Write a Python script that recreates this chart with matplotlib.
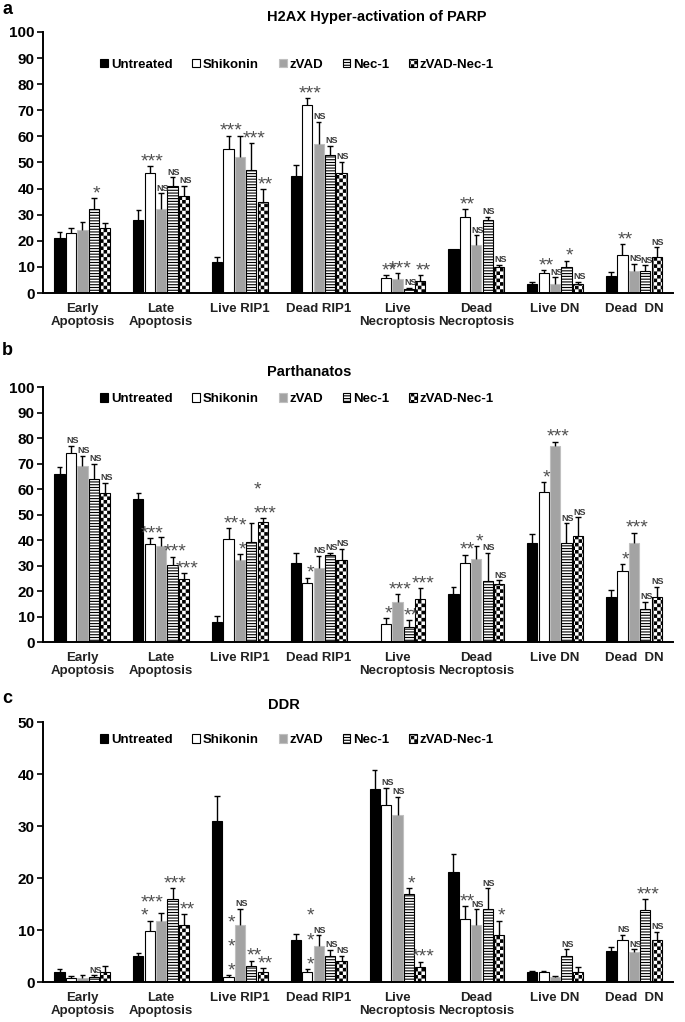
import warnings
import numpy as np
import matplotlib
matplotlib.use('Agg')
import matplotlib.pyplot as plt
from matplotlib import hatch as mhatch
from matplotlib.path import Path

warnings.filterwarnings('ignore')

plt.rcParams['font.family'] = ['Liberation Sans', 'DejaVu Sans']
plt.rcParams['hatch.linewidth'] = 0.8

categories = ['Early\nApoptosis', 'Late\nApoptosis', 'Live RIP1', 'Dead RIP1',
              'Live\nNecroptosis', 'Dead\nNecroptosis', 'Live DN', 'Dead  DN']
series = ['Untreated', 'Shikonin', 'zVAD', 'Nec-1', 'zVAD-Nec-1']

# Panel a: H2AX hyper-activation of PARP
untreated_a = [21, 28, 12, 45, 0.5, 17, 3.6, 6.6]
untreated_a_err = [2.2, 3.7, 1.9, 3.9, 0, 0, 0.7, 1.6]
shikonin_a = [23, 46, 55, 72, 5.6, 29, 7.8, 14.6]
shikonin_a_err = [1.9, 2.6, 5.3, 2.7, 1.3, 3, 0.9, 4]
zvad_a = [24, 32, 52, 57, 5.5, 18.5, 3.3, 8.5]
zvad_a_err = [3.2, 6.2, 8.3, 8.5, 2, 3.6, 2.7, 2.8]
nec1_a = [32, 41, 47, 53, 1.7, 28, 9.8, 8.5]
nec1_a_err = [4.3, 3.3, 10.5, 3.4, 0.4, 1.2, 2.6, 2.1]
zvadnec_a = [25, 37, 35, 46, 4.7, 10, 3.6, 13.9]
zvadnec_a_err = [2, 4.1, 4.8, 4.3, 2.1, 0.8, 0.6, 3.6]
sig_a = [
    ['', '', '', '', '', '', '', ''],
    ['', '***', '***', '***', '**', '**', '**', '**'],
    ['', 'NS', '', 'NS', '***', 'NS', 'NS', 'NS'],
    ['*', 'NS', '***', 'NS', 'NS', 'NS', '*', 'NS'],
    ['', 'NS', '**', 'NS', '**', 'NS', 'NS', 'NS'],
]

# Panel b: Parthanatos
untreated_b = [66, 56, 8, 31, 0.3, 19, 38.7, 17.8]
untreated_b_err = [2.8, 2.3, 2.2, 3.9, 0, 2.6, 3.5, 2.6]
shikonin_b = [74, 38.3, 40.3, 23, 6.9, 31, 58.7, 28]
shikonin_b_err = [2.9, 2.3, 4.3, 2.3, 2.4, 3.3, 3.9, 2.6]
zvad_b = [69, 37.8, 32.2, 29, 15.5, 32.5, 76.7, 38.7]
zvad_b_err = [3.9, 3.2, 2.3, 4.8, 3.4, 5.2, 1.9, 4.2]
nec1_b = [64, 30.2, 39.1, 34, 5.8, 24, 38.7, 12.8]
nec1_b_err = [6, 3.3, 7.5, 1, 2.7, 10.9, 7.8, 2.9]
zvadnec_b = [58.6, 24.6, 47.2, 32, 16.8, 22.7, 41.7, 17.8]
zvadnec_b_err = [3.9, 2.3, 1.4, 4.6, 4.2, 1.5, 7.2, 3.8]
sig_b = [
    ['', '', '', '', '', '', '', ''],
    ['NS', '***', '**', '*', '*', '**', '*', '*'],
    ['NS', '', '*\n*', 'NS', '***', '*', '***', '***'],
    ['NS', '***', '', 'NS', '**', 'NS', 'NS', 'NS'],
    ['NS', '***', '*\n***', 'NS', '***', 'NS', 'NS', 'NS'],
]

# Panel c: DDR
untreated_c = [2.0, 5.0, 31, 8.0, 37.2, 21.1, 2.0, 6.0]
untreated_c_err = [0.5, 0.6, 4.8, 1.2, 3.6, 3.5, 0.2, 0.7]
shikonin_c = [0.8, 9.9, 0.9, 2.0, 34.1, 12.1, 2.0, 8.0]
shikonin_c_err = [0.4, 1.9, 0.4, 0.5, 3.2, 2.5, 0.2, 1.1]
zvad_c = [0.8, 11.8, 10.9, 7.0, 32.1, 10.9, 0.9, 5.8]
zvad_c_err = [0.6, 1.4, 3.2, 2.0, 3.5, 3.1, 0.2, 0.5]
nec1_c = [1.0, 16, 3.0, 5.0, 16.9, 14, 5.0, 13.9]
nec1_c_err = [0.3, 2.0, 1.1, 1.2, 1.1, 4.0, 1.3, 2.0]
zvadnec_c = [2.0, 10.9, 1.9, 4.0, 2.9, 9.0, 1.9, 8.0]
zvadnec_c_err = [1.0, 2.2, 0.8, 1.0, 1.0, 2.8, 1.0, 1.7]
sig_c = [
    ['', '', '', '', '', '', '', ''],
    ['', '***\n*', '*\n*\n*', '*\n*\n*', 'NS', '**', '', 'NS'],
    ['', '', 'NS', 'NS', 'NS', 'NS', '', 'NS'],
    ['NS', '***', '**', 'NS', '*', 'NS', 'NS', '***'],
    ['', '**', '**', 'NS', '***', '*', '', 'NS'],
]

DPI = 100


# checkerboard hatch for the zVAD-Nec-1 bars ('c' in the hatch string)
class CheckerHatch(mhatch.HatchPatternBase):
    def __init__(self, hatch, density):
        self.cells = 28 if 'c' in hatch else 0
        self.num_vertices = self.cells * self.cells // 2 * 5

    def set_vertices_and_codes(self, vertices, codes):
        s = 1.0 / self.cells
        # the hatch is also stroked, so pull each square in by half a line
        d = plt.rcParams['hatch.linewidth'] / 72 / 2
        k = 0
        for i in range(self.cells):
            for j in range(self.cells):
                if (i + j) % 2 == 0:
                    x0, y0 = i * s + d, j * s + d
                    x1, y1 = (i + 1) * s - d, (j + 1) * s - d
                    vertices[k:k + 5] = [(x0, y0), (x1, y0), (x1, y1), (x0, y1), (x0, y0)]
                    codes[k:k + 5] = [Path.MOVETO, Path.LINETO, Path.LINETO,
                                      Path.LINETO, Path.CLOSEPOLY]
                    k += 5


mhatch._hatch_types.append(CheckerHatch)

bar_styles = [
    dict(color='black', edgecolor='black', linewidth=0.8),
    dict(color='white', edgecolor='black', linewidth=0.8),
    dict(color='#a3a3a3', edgecolor='#c0c0c0', linewidth=0.8),
    dict(color='white', edgecolor='black', linewidth=0.8, hatch='------'),
    dict(color='white', edgecolor='black', linewidth=0.8, hatch='c'),
]
offsets = (np.arange(5) - 2) * 0.145
bar_w = 0.13
cap = 0.035


def draw_panel(ax, values, errors, sigs, ymax, step, legend_y):
    x = np.arange(len(categories))
    for i in range(5):
        xpos = x + offsets[i]
        vals = np.asarray(values[i], float)
        errs = np.asarray(errors[i], float)
        ax.bar(xpos, vals, width=bar_w, label=series[i], zorder=2, **bar_styles[i])
        has = errs > 0
        tops = vals + errs
        ax.vlines(xpos[has], vals[has], tops[has], color='black', linewidth=1, zorder=3)
        ax.hlines(tops[has], xpos[has] - cap, xpos[has] + cap, color='black',
                  linewidth=1, zorder=3)
        for xp, t, s in zip(xpos, tops, sigs[i]):
            if not s:
                continue
            if 'NS' in s:
                ax.annotate(s, (xp, t), xytext=(1, 0.5), textcoords='offset points',
                            ha='center', va='bottom', fontsize=6.5, fontweight='bold',
                            color='#3a3a3a', zorder=4)
            else:
                ls = 0.7 if '***\n' in s else 1.55
                ax.annotate(s, (xp, t), xytext=(2, -3), textcoords='offset points',
                            ha='center', va='bottom', ma='left', fontsize=14,
                            color='#505050', linespacing=ls, zorder=4)
    ax.set_xlim(-0.5, len(categories) - 0.5)
    ax.set_ylim(0, ymax)
    ax.set_yticks(np.arange(0, ymax + 1, step))
    ax.set_xticks(x)
    ax.set_xticklabels(categories, fontsize=9.5, fontweight='bold', color='#222222',
                       linespacing=1.1)
    ax.tick_params(axis='x', length=0, pad=7)
    ax.tick_params(axis='y', length=4, width=1.2, pad=2, labelsize=11)
    for lab in ax.get_yticklabels():
        lab.set_fontweight('bold')
    for side in ['top', 'right']:
        ax.spines[side].set_visible(False)
    for side in ['left', 'bottom']:
        ax.spines[side].set_linewidth(1.4)
    ax.legend(loc='center', bbox_to_anchor=(0.403, legend_y), ncol=5, frameon=False,
              handlelength=0.6, handleheight=0.6, handletextpad=0.2,
              columnspacing=1.5, prop=dict(weight='bold', size=9.5))


fig = plt.figure(figsize=(6.85, 10.22), dpi=DPI)
ax_a = fig.add_axes([0.0628, 0.7133, 0.92, 0.2554])
ax_b = fig.add_axes([0.0628, 0.3718, 0.92, 0.2495])
ax_c = fig.add_axes([0.0628, 0.0391, 0.92, 0.2544])

draw_panel(ax_a,
           [untreated_a, shikonin_a, zvad_a, nec1_a, zvadnec_a],
           [untreated_a_err, shikonin_a_err, zvad_a_err, nec1_a_err, zvadnec_a_err],
           sig_a, 100, 10, 0.874)
draw_panel(ax_b,
           [untreated_b, shikonin_b, zvad_b, nec1_b, zvadnec_b],
           [untreated_b_err, shikonin_b_err, zvad_b_err, nec1_b_err, zvadnec_b_err],
           sig_b, 100, 10, 0.953)
draw_panel(ax_c,
           [untreated_c, shikonin_c, zvad_c, nec1_c, zvadnec_c],
           [untreated_c_err, shikonin_c_err, zvad_c_err, nec1_c_err, zvadnec_c_err],
           sig_c, 50, 10, 0.93)

# panel letters and titles
fig.text(0.003, 0.999, 'a', fontsize=13, fontweight='bold', va='top')
fig.text(0.003, 1 - 342 / 1022, 'b', fontsize=13, fontweight='bold', va='top')
fig.text(0.003, 1 - 690 / 1022, 'c', fontsize=13, fontweight='bold', va='top')
fig.text(377 / 685, 1 - 17 / 1022, 'H2AX Hyper-activation of PARP', fontsize=10.5,
         fontweight='bold', ha='center', va='center')
fig.text(309 / 685, 1 - 372 / 1022, 'Parthanatos', fontsize=10.5,
         fontweight='bold', ha='center', va='center')
fig.text(284 / 685, 1 - 705 / 1022, 'DDR', fontsize=10.5,
         fontweight='bold', ha='center', va='center')

fig.savefig('out.png', dpi=DPI)
